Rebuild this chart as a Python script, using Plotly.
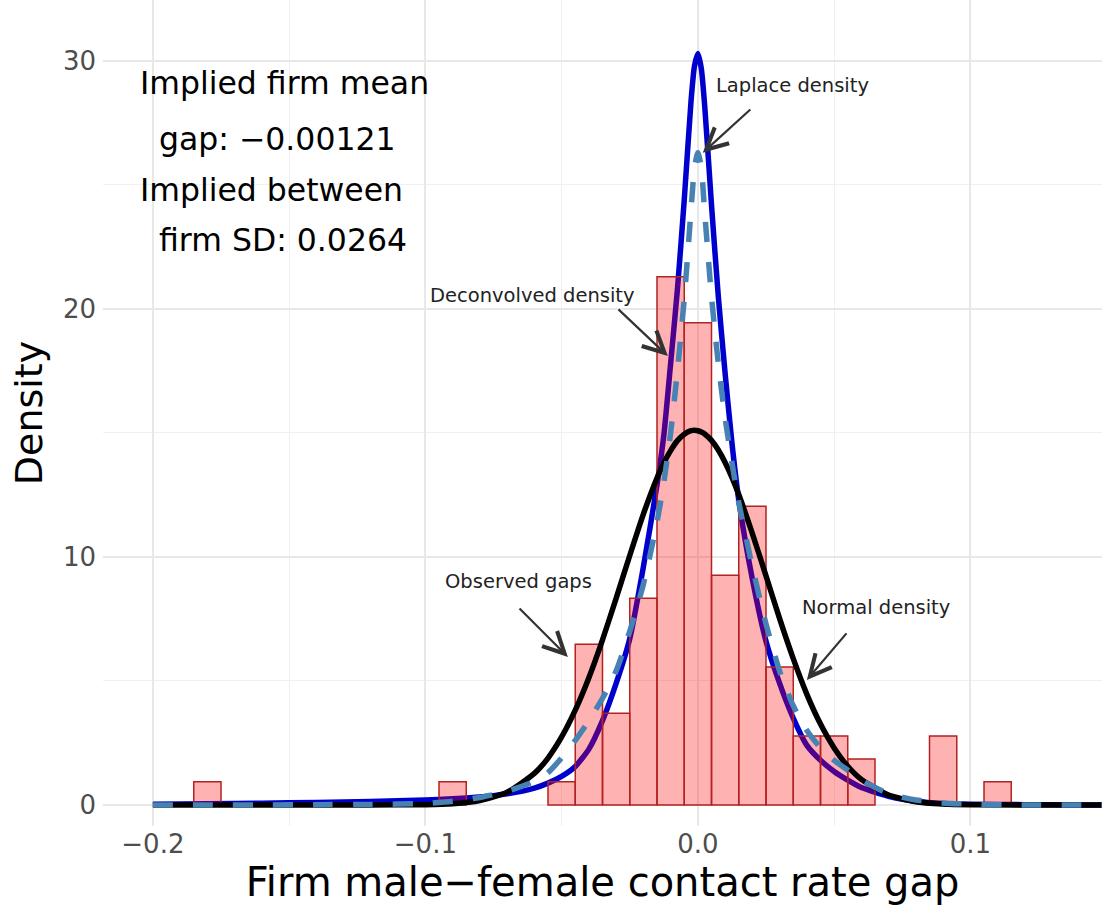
import plotly.graph_objects as go

# Histogram of observed firm-level gaps (bin width 0.01, density scale)
bin_center = [-0.18, -0.09, -0.05, -0.04, -0.03, -0.02, -0.01, 0.00,
              0.01, 0.02, 0.03, 0.04, 0.05, 0.06, 0.09, 0.11]
bin_density = [0.93, 0.93, 0.93, 6.48, 3.70, 8.33, 21.30, 19.44,
               9.26, 12.04, 5.56, 2.78, 2.78, 1.85, 2.78, 0.93]
BIN_WIDTH = 0.01

# Density curves on a shared grid
grid_x = [-0.20, -0.18, -0.16, -0.14, -0.12, -0.10, -0.09, -0.08, -0.07, -0.06,
          -0.055, -0.05, -0.045, -0.04, -0.035, -0.03, -0.025, -0.02, -0.015,
          -0.0125, -0.01, -0.0075, -0.005, -0.0025, -0.00125, 0.0, 0.00125,
          0.0025, 0.005, 0.0075,
          0.01, 0.0125, 0.015, 0.02, 0.025, 0.03, 0.035, 0.04, 0.045, 0.05,
          0.055, 0.06, 0.07, 0.08, 0.09, 0.10, 0.12, 0.14, 0.16]

laplace_y = [0.03, 0.05, 0.07, 0.10, 0.14, 0.20, 0.25, 0.32, 0.45, 0.68,
             0.88, 1.15, 1.55, 2.25, 3.4, 4.9, 6.7, 9.6, 12.9,
             14.9, 17.8, 20.8, 24.4, 28.4, 29.8, 30.3, 29.7,
             28.2, 24.2, 20.5,
             17.4, 14.6, 12.3, 9.1, 6.6, 4.9, 3.5, 2.4, 1.8, 1.35,
             1.0, 0.7, 0.35, 0.15, 0.06, 0.03, 0.01, 0.0, 0.0]

normal_y = [0.0, 0.0, 0.0, 0.0, 0.0, 0.01, 0.05, 0.18, 0.51, 1.27,
            1.89, 2.74, 3.82, 5.13, 6.66, 8.33, 10.06, 11.73, 13.18,
            13.79, 14.29, 14.69, 14.95, 15.09, 15.11, 15.09, 15.04,
            14.96, 14.70, 14.31,
            13.81, 13.21, 12.52, 10.94, 9.24, 7.51, 5.90, 4.46, 3.26, 2.30,
            1.56, 1.03, 0.40, 0.13, 0.04, 0.01, 0.0, 0.0, 0.0]

deconv_y = [0.0, 0.0, 0.0, 0.01, 0.02, 0.06, 0.15, 0.30, 0.55, 0.95,
            1.3, 1.9, 2.6, 3.4, 4.3, 5.4, 7.0, 8.9, 11.4,
            13.0, 15.0, 17.5, 20.4, 24.0, 25.7, 26.3, 25.7,
            23.9, 20.5, 17.8,
            15.6, 13.8, 12.2, 9.6, 7.3, 5.4, 4.0, 3.0, 2.3, 1.8,
            1.4, 1.0, 0.45, 0.2, 0.08, 0.03, 0.0, 0.0, 0.0]

x_tick_vals = [-0.2, -0.1, 0.0, 0.1]
x_tick_text = ["\u22120.2", "\u22120.1", "0.0", "0.1"]
y_tick_vals = [0, 10, 20, 30]

X_RANGE = [-0.2183, 0.1483]
Y_RANGE = [-0.85, 32.46]

FONT = "DejaVu Sans"
GRID_MAJOR = "#E8E8E8"
GRID_MINOR = "#F0F0F0"
ARROW_COLOR = "#333333"
SPLINE = dict(shape="spline", smoothing=0.6)

fig = go.Figure()

# layer 1 (base axes): Laplace curve
fig.add_trace(go.Scatter(x=grid_x, y=laplace_y, mode="lines", name="Laplace density",
                         line=dict(color="#0000CD", width=5.5, **SPLINE)))

# layer 2: translucent histogram bars
fig.add_trace(go.Bar(x=bin_center, y=bin_density, width=BIN_WIDTH, name="Observed gaps",
                     xaxis="x2", yaxis="y2",
                     marker=dict(color="rgba(255,0,0,0.3)",
                                 line=dict(color="#B22222", width=1.5))))

# layer 3: normal and deconvolved curves above the bars
fig.add_trace(go.Scatter(x=grid_x, y=normal_y, mode="lines", name="Normal density",
                         xaxis="x3", yaxis="y3",
                         line=dict(color="black", width=5.5, **SPLINE)))
fig.add_trace(go.Scatter(x=grid_x, y=deconv_y, mode="lines", name="Deconvolved density",
                         xaxis="x3", yaxis="y3",
                         line=dict(color="#4682B4", width=5.5, dash="20px,20px", **SPLINE)))

axis_common = dict(showline=False, zeroline=False, ticks="")

fig.update_layout(
    width=1102, height=922,
    margin=dict(l=103, r=0, t=0, b=96),
    paper_bgcolor="white", plot_bgcolor="white",
    showlegend=False,
    xaxis=dict(range=X_RANGE, tickvals=x_tick_vals, ticktext=x_tick_text,
               showgrid=True, gridcolor=GRID_MAJOR, gridwidth=1.6,
               minor=dict(tickvals=[-0.15, -0.05, 0.05, 0.15], showgrid=True,
                          gridcolor=GRID_MINOR, gridwidth=1),
               tickfont=dict(family=FONT, size=26, color="#4D4D4D"),
               ticklabelstandoff=0,
               title=dict(text="Firm male\u2212female contact rate gap",
                          font=dict(family=FONT, size=40, color="black"), standoff=2),
               **axis_common),
    yaxis=dict(range=Y_RANGE, tickvals=y_tick_vals,
               showgrid=True, gridcolor=GRID_MAJOR, gridwidth=1.6,
               minor=dict(tickvals=[5, 15, 25], showgrid=True,
                          gridcolor=GRID_MINOR, gridwidth=1),
               tickfont=dict(family=FONT, size=26, color="#4D4D4D"),
               ticklabelstandoff=6,
               title=dict(text="Density", font=dict(family=FONT, size=38, color="black"),
                          standoff=8),
               **axis_common),
    xaxis2=dict(range=X_RANGE, overlaying="x", visible=False, showgrid=False),
    yaxis2=dict(range=Y_RANGE, overlaying="y", visible=False, showgrid=False),
    xaxis3=dict(range=X_RANGE, overlaying="x", visible=False, showgrid=False),
    yaxis3=dict(range=Y_RANGE, overlaying="y", visible=False, showgrid=False),
)

# summary text block in the upper-left corner
summary_lines = [
    ("Implied firm mean", -0.2055, 29.1),
    ("gap: \u22120.00121", -0.1985, 26.85),
    ("Implied between", -0.2055, 24.8),
    ("firm SD: 0.0264", -0.1985, 22.8),
]
for text, x, y in summary_lines:
    fig.add_annotation(x=x, y=y, xref="x", yref="y", text=text, showarrow=False,
                       xanchor="left", yanchor="middle",
                       font=dict(family=FONT, size=31.5, color="black"))

# curve labels with arrows: (label, label x, label y, tail x, tail y, head x, head y)
curve_labels = [
    ("Laplace density", 0.0349, 29.0, 0.0198, 28.1, 0.0018, 26.3),
    ("Deconvolved density", -0.0606, 20.56, -0.0297, 20.04, -0.011, 18.1),
    ("Observed gaps", -0.066, 9.0, -0.066, 7.98, -0.0477, 5.97),
    ("Normal density", 0.0653, 7.98, 0.055, 6.98, 0.040, 5.04),
]
for text, lx, ly, tx, ty, hx, hy in curve_labels:
    fig.add_annotation(x=lx, y=ly, xref="x", yref="y", text=text, showarrow=False,
                       xanchor="center", yanchor="middle",
                       font=dict(family=FONT, size=19.5, color="#222222"))
    fig.add_annotation(x=hx, y=hy, ax=tx, ay=ty, xref="x", yref="y",
                       axref="x", ayref="y", text="", showarrow=True,
                       arrowhead=5, arrowsize=1.9, arrowwidth=2.2,
                       arrowcolor=ARROW_COLOR, standoff=0, startstandoff=0)

fig.write_html("out.html")
